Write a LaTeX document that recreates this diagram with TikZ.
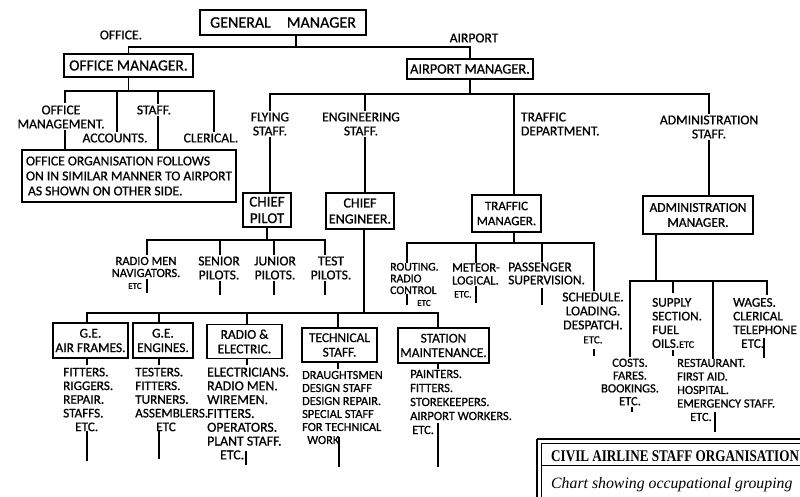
\documentclass[tikz,border=0pt]{standalone}
\usepackage{fontspec}
\usepackage{graphicx}
\setmainfont{Carlito}[FakeBold=0.8]
\newfontfamily\serifft{Liberation Serif}
\begin{document}
\begin{tikzpicture}[x=1pt,y=-1pt,
  every node/.style={inner sep=0pt},
  box/.style={draw,line width=1.1pt,align=center},
  lab/.style={align=center,outer sep=2pt,font=\fontsize{13.6}{14}\selectfont},
  lst/.style={align=left,anchor=west,font=\fontsize{13.2}{13.7}\selectfont},
  bar/.style={line width=2.1pt,line cap=rect},
  ln/.style={line width=1.4pt},
]
\useasboundingbox (0,0) rectangle (800,497);
\clip (0,0) rectangle (800,497);

% ---------- top ----------
\node[box,minimum width=166,minimum height=25,font=\fontsize{16}{18}\selectfont] (gm) at (283,22.5) {GENERAL\hspace{1em}MANAGER};
\node[lab] (lofc) at (121,35) {OFFICE.};
\node[lab] (lair) at (474,38) {AIRPORT};
\node[box,minimum width=129,minimum height=23,font=\fontsize{15.5}{17}\selectfont] (om) at (128.5,65.5) {OFFICE MANAGER.};
\node[box,minimum width=126,minimum height=20,font=\fontsize{14.3}{16}\selectfont] (am) at (470,69) {AIRPORT MANAGER.};
\coordinate (gmj) at (296,47);
\draw[ln] ([xshift=13pt]gm.south) -- (gmj);
\draw[line width=1.8pt] (om.north) |- (gmj) -| (am.north);

% ---------- office ----------
\coordinate (ob) at (128.5,91);
\coordinate (o1) at (65,91);
\coordinate (o2) at (117,91);
\coordinate (o3) at (158,91);
\coordinate (o4) at (214,91);
\draw[ln] (om.south) -- (ob);
\draw[bar] (o1) -- (o4);
\node[lab] (omg) at (61,117) {OFFICE\\MANAGEMENT.};
\node[lab] (ost) at (154,110) {STAFF.};
\node[lab] (oac) at (115,138) {ACCOUNTS.};
\node[lab] (ocl) at (211,138) {CLERICAL.};
\node[box,minimum width=214,minimum height=52,align=left,font=\fontsize{13.6}{15}\selectfont] (oorg) at (129,176) {OFFICE ORGANISATION FOLLOWS\\ON IN SIMILAR MANNER TO AIRPORT\\\hspace*{2pt}AS SHOWN ON OTHER SIDE.};
\draw[ln] (o1) -- ++(0,12);
\draw[ln] (omg.south -| o1) -- (oorg.north -| o1);
\draw[ln] (o2) -- (oac.north -| o2);
\draw[ln] (o3) -- (ost.north -| o3);
\draw[ln] (ost.south -| o3) -- (oorg.north -| o3);
\draw[ln] (o4) -- (ocl.north -| o4);

% ---------- airport ----------
\coordinate (ab) at (470,94);
\coordinate (a1) at (270,94);
\coordinate (a2) at (365,94);
\coordinate (a3) at (514,94);
\coordinate (a4) at (709,94);
\draw[ln] (am.south) -- (ab);
\draw[bar] (a1) -- (a4);
\node[lab] (fly) at (270,124) {FLYING\\STAFF.};
\node[lab] (eng) at (361,124) {ENGINEERING\\STAFF.};
\node[lab,anchor=west,align=left,outer sep=0pt] (trd) at (521,124) {TRAFFIC\\DEPARTMENT.};
\node[lab] (ads) at (709,127) {ADMINISTRATION\\STAFF.};
\node[box,minimum width=48,minimum height=34,font=\fontsize{15}{16.5}\selectfont] (cp) at (267,210) {CHIEF\\PILOT};
\node[box,minimum width=68,minimum height=36,font=\fontsize{14}{16}\selectfont] (ce) at (360,211) {CHIEF\\ENGINEER.};
\node[box,minimum width=69,minimum height=37,font=\fontsize{13}{15}\selectfont] (tm) at (506.5,213.5) {TRAFFIC\\MANAGER.};
\node[box,minimum width=110,minimum height=38,font=\fontsize{13.4}{15}\selectfont] (adm) at (698,215) {ADMINISTRATION\\MANAGER.};
\draw[ln] (a1) -- (fly.north -| a1);
\draw[ln] (fly.south -| a1) -- (cp.north -| a1);
\draw[ln] (a2) -- (eng.north -| a2);
\draw[ln] (eng.south -| a2) -- (ce.north -| a2);
\draw[ln] (a3) -- (tm.north -| a3);
\draw[ln] (a4) -- (ads.north -| a4);
\draw[ln] (ads.south -| a4) -- (adm.north -| a4);

% ---------- pilots ----------
\coordinate (pj) at (267,240);
\coordinate (p1) at (147,240);
\coordinate (p2) at (220,240);
\coordinate (p3) at (274,240);
\coordinate (p4) at (325,240);
\draw[ln] (cp.south) -- (pj);
\draw[bar] (p1) -- (p4);
\node[lab,font=\fontsize{12.5}{12}\selectfont] (prm) at (146,267) {RADIO MEN\\NAVIGATORS.};
\node[lab,font=\fontsize{9}{10}\selectfont,outer sep=0pt] (petc) at (135,286) {ETC};
\node[lab] (psn) at (219,268) {SENIOR\\PILOTS.};
\node[lab] (pjn) at (275,268) {JUNIOR\\PILOTS.};
\node[lab] (pts) at (331,268) {TEST\\PILOTS.};
\draw[ln] (p1) -- (prm.north -| p1);
\draw[ln] (prm.south -| p1) -- ++(0,14);
\draw[ln] (p2) -- (psn.north -| p2);
\draw[ln] (psn.south -| p2) -- ++(0,14);
\draw[ln] (p3) -- (pjn.north -| p3);
\draw[ln] (pjn.south -| p3) -- ++(0,14);
\draw[ln] (p4) -- (pts.north -| p4);
\draw[ln] (pts.south -| p4) -- ++(0,14);

% ---------- engineering ----------
\coordinate (ej) at (364,313);
\coordinate (e1) at (87,313);
\coordinate (e2) at (159,313);
\coordinate (e3) at (247,313);
\coordinate (e4) at (338,313);
\coordinate (e5) at (438,313);
\draw[ln] (ce.south -| ej) -- (ej);
\draw[bar] (e1) -- (e5);
\node[box,minimum width=75,minimum height=35,font=\fontsize{13.4}{14.5}\selectfont] (gaf) at (90.5,340.5) {G.E.\\AIR FRAMES.};
\node[box,minimum width=60,minimum height=35,font=\fontsize{13.4}{14.5}\selectfont] (gen) at (163,340.5) {G.E.\\ENGINES.};
\node[box,minimum width=75,minimum height=34,font=\fontsize{13.4}{14.5}\selectfont] (rad) at (244.5,341.5) {RADIO \&\\ELECTRIC.};
\node[box,minimum width=75,minimum height=34,font=\fontsize{13.4}{14.5}\selectfont] (tec) at (339.5,345) {TECHNICAL\\STAFF.};
\node[box,minimum width=91,minimum height=35,font=\fontsize{13.4}{14.5}\selectfont] (sta) at (443.5,345.5) {STATION\\MAINTENANCE.};
\draw[ln] (e1) -- (gaf.north -| e1);
\draw[ln] (e2) -- (gen.north -| e2);
\draw[ln] (e3) -- (rad.north -| e3);
\draw[ln] (e4) -- (tec.north -| e4);
\draw[ln] (e5) -- (sta.north -| e5);

\node[lst] (gafl) at (63,399.5) {FITTERS.\\RIGGERS.\\REPAIR.\\STAFFS.\\\hspace*{12pt}ETC.};
\node[lst] (genl) at (135,399.5) {TESTERS.\\FITTERS.\\TURNERS.\\ASSEMBLERS.\\\hspace*{21pt}ETC};
\node[lst,font=\fontsize{13.8}{13.8}\selectfont] (radl) at (207,413.5) {ELECTRICIANS.\\RADIO MEN.\\WIREMEN.\\FITTERS.\\OPERATORS.\\PLANT STAFF.\\\hspace*{13pt}ETC.};
\node[lst,font=\fontsize{12.3}{13}\selectfont] (tecl) at (302,407.5) {DRAUGHTSMEN\\DESIGN STAFF\\DESIGN REPAIR.\\SPECIAL STAFF\\FOR TECHNICAL\\\hspace*{5pt}WORK};
\node[lst,font=\fontsize{12.5}{14}\selectfont] (stal) at (410,402) {PAINTERS.\\FITTERS.\\STOREKEEPERS.\\AIRPORT WORKERS.\\\hspace*{2pt}ETC.};
\draw[ln] (gaf.south -| e1) -- ++(0,6);
\draw[ln] (gafl.south -| e1) -- ++(0,30);
\draw[ln] (gen.south -| e2) -- ++(0,6);
\draw[ln] (genl.south -| e2) -- ++(0,28);
\draw[ln] (rad.south -| e3) -- ++(0,6);
\draw[ln] (radl.south -| e3) ++(-1,-9) -- ++(0,14);
\draw[ln] (tec.south -| e4) -- ++(0,6);
\draw[ln] (tecl.south -| e4) ++(1,-7) -- ++(0,30);
\draw[ln] (sta.south -| e5) -- ++(0,5);
\draw[ln] (stal.south -| e5) ++(0,-11) -- ++(0,44);

% ---------- traffic ----------
\coordinate (tj) at (514,243);
\coordinate (t1) at (407,243);
\coordinate (t2) at (476,243);
\coordinate (t3) at (542,243);
\coordinate (t4) at (594,243);
\draw[ln] (tm.south -| tj) -- (tj);
\draw[bar] (t1) -- (t4);
\node[lst,font=\fontsize{11.8}{11.7}\selectfont] (rou) at (390,278.5) {ROUTING.\\RADIO\\CONTROL};
\node[lab,font=\fontsize{9}{10}\selectfont,outer sep=0pt] (retc) at (424,303) {ETC};
\node[lst,font=\fontsize{12.5}{13}\selectfont] (met) at (452,280.5) {METEOR-\\LOGICAL.\\\hspace*{2pt}{\fontsize{10}{10}\selectfont ETC.}};
\node[lst,font=\fontsize{13.4}{13}\selectfont] (pas) at (508,273.5) {PASSENGER\\SUPERVISION.};
\node[lab,align=center] (sch) at (593,318) {SCHEDULE.\\LOADING.\\DESPATCH.\\{\fontsize{11}{11}\selectfont ETC.}};
\draw[ln] (t1) -- (rou.north -| t1);
\draw[ln] (rou.south -| t1) -- ++(0,11);
\draw[ln] (t2) -- (met.north -| t2);
\draw[ln] (met.south -| t2) ++(0,-12) -- ++(0,17);
\draw[ln] (t3) -- (pas.north -| t3);
\draw[ln] (pas.south -| t3) ++(0,3) -- ++(0,17);
\draw[ln] (t4) -- (sch.north -| t4);
\draw[ln] (sch.south -| t4) ++(0,4) -- ++(0,7);

% ---------- administration ----------
\coordinate (dj) at (656,281);
\coordinate (d1) at (630,281);
\coordinate (d2) at (673,281);
\coordinate (d3) at (713,281);
\coordinate (d4) at (767,281);
\draw[ln] (adm.south -| dj) -- (dj);
\draw[bar] (d1) -- (d4);
\node[lst] (sup) at (652,323) {SUPPLY\\SECTION.\\FUEL\\OILS.{\fontsize{10}{10}\selectfont ETC}};
\node[lst] (wag) at (733,323) {WAGES.\\CLERICAL\\TELEPHONE\\\hspace*{8pt}ETC.};
\node[lab,font=\fontsize{12.5}{12.8}\selectfont] (cos) at (630,382) {COSTS.\\FARES.\\BOOKINGS.\\ETC.};
\node[lst,font=\fontsize{12.4}{13.5}\selectfont] (res) at (677,390) {RESTAURANT.\\FIRST AID.\\HOSPITAL.\\EMERGENCY STAFF.\\\hspace*{13pt}ETC.};
\draw[ln] (d1) -- (cos.north -| d1);
\draw[ln] (cos.south -| d1) ++(2,0) -- ++(0,5);
\draw[ln] (d2) -- ++(0,12);
\draw[ln] (sup.south -| d2) ++(0,2) -- ++(0,6);
\draw[ln] (d3) -- (res.north -| d3);
\draw[ln] (res.south -| d3) ++(2,-9) -- ++(0,20);
\draw[ln] (d4) -- ++(0,14);
\draw[ln] (wag.south -| d4) ++(-3,-10) -- ++(0,20);

% ---------- title box ----------
\draw[line width=1.6pt] (537,439) -- (815,439);
\draw[line width=1.6pt] (537,439) -- (537,510);
\draw[line width=0.7pt] (541,443) rectangle (820,515);
\draw[line width=0.8pt] (541,465) -- (820,465);
\node[anchor=base west,font=\serifft\bfseries\fontsize{13.6}{15}\selectfont] (tt) at (551,461) {\scalebox{0.965}[1.2]{CIVIL AIRLINE STAFF ORGANISATION}};
\node[anchor=base west,font=\serifft\itshape\fontsize{15.8}{18}\selectfont] (ts) at (551,488) {Chart showing occupational grouping};
\end{tikzpicture}
\end{document}
